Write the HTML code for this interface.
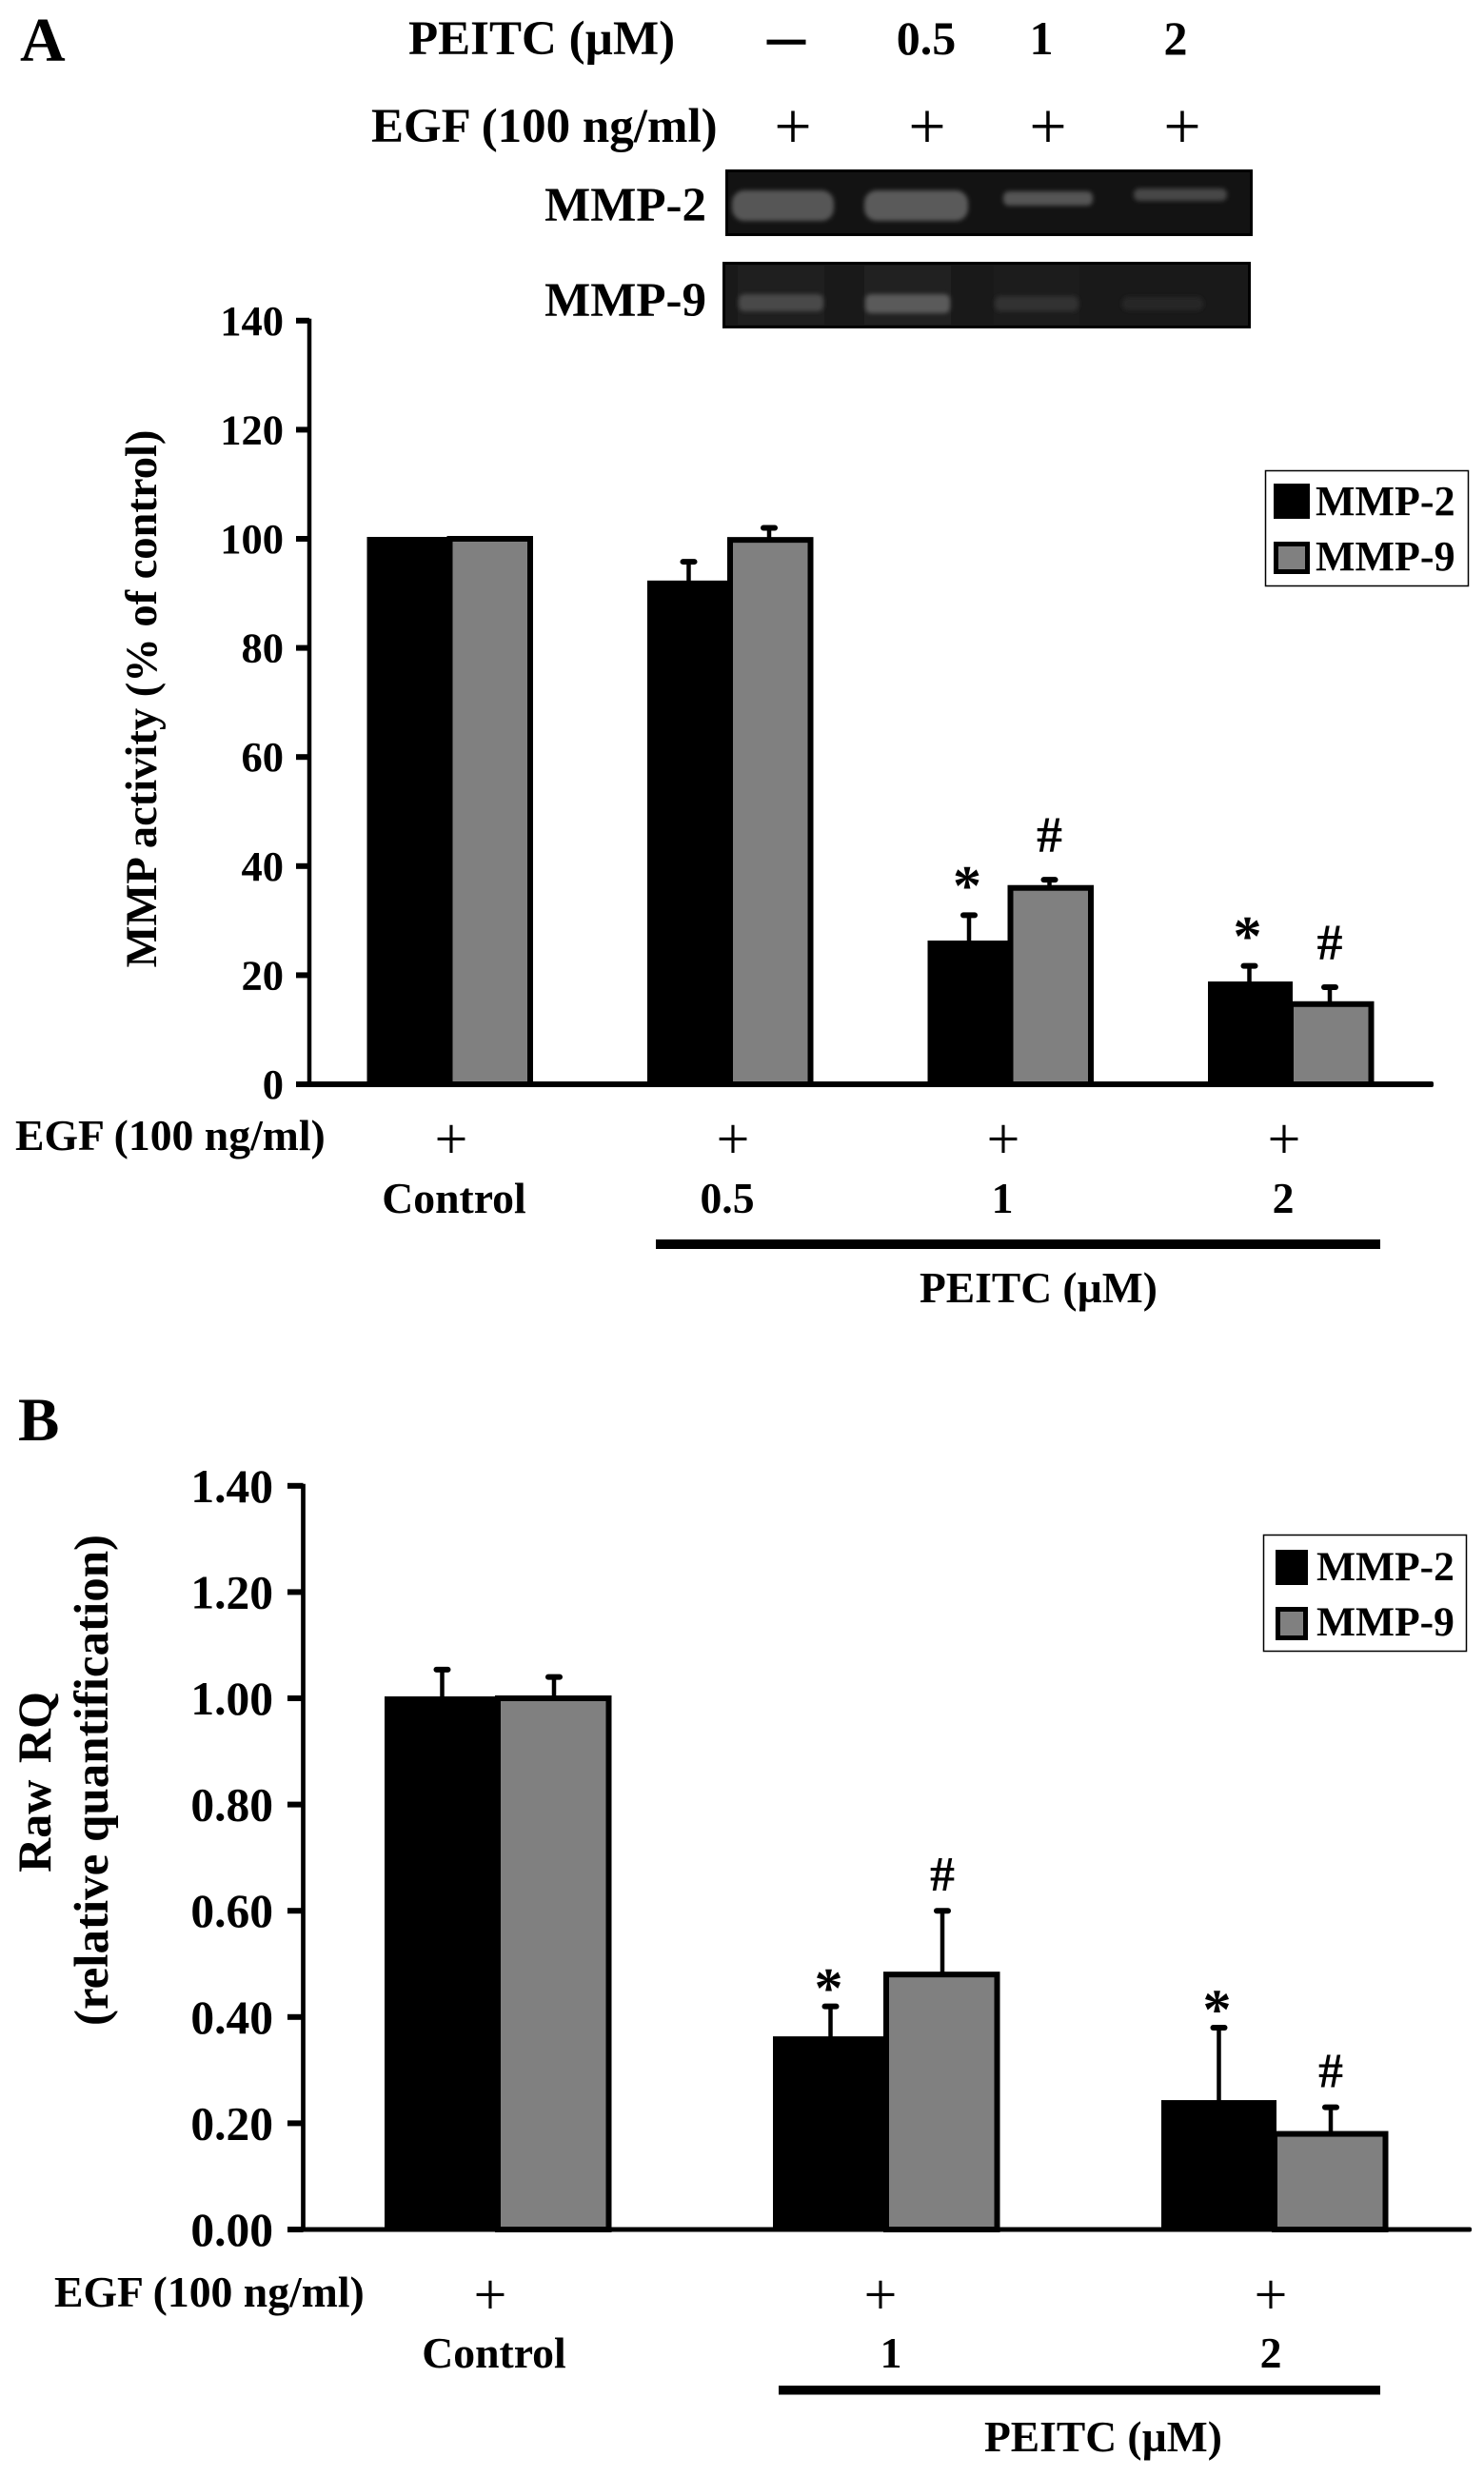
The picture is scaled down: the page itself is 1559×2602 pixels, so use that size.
<!DOCTYPE html>
<html lang="en">
<head>
<meta charset="utf-8">
<title>MMP activity and relative quantification</title>
<style>
html,body{margin:0;padding:0;background:#fff;}
svg{display:block;}
text{font-family:"Liberation Serif",serif;font-weight:bold;fill:#000;}
</style>
</head>
<body>
<svg id="figure" xmlns="http://www.w3.org/2000/svg" width="1559" height="2602" viewBox="0 0 1559 2602">
<defs>
<filter id="blur3" x="-20%" y="-60%" width="140%" height="220%"><feGaussianBlur stdDeviation="2.5"/></filter>
</defs>
<rect width="1559" height="2602" fill="#fff"/>

<!-- Panel A header -->
<text x="21" y="64" font-size="66">A</text>
<text x="429" y="57" font-size="51">PEITC (µM)</text>
<text x="390" y="149" font-size="51">EGF (100 ng/ml)</text>
<text x="826" y="53" font-size="38" text-anchor="middle" stroke="#000" stroke-width="2.5">—</text>
<text x="973" y="57" font-size="50" text-anchor="middle">0.5</text>
<text x="1094" y="57" font-size="50" text-anchor="middle">1</text>
<text x="1235" y="57" font-size="50" text-anchor="middle">2</text>
<text x="833" y="156" font-size="70" text-anchor="middle" style="font-weight:normal">+</text>
<text x="974" y="156" font-size="70" text-anchor="middle" style="font-weight:normal">+</text>
<text x="1101" y="156" font-size="70" text-anchor="middle" style="font-weight:normal">+</text>
<text x="1242" y="156" font-size="70" text-anchor="middle" style="font-weight:normal">+</text>
<text x="742" y="232" font-size="51" text-anchor="end">MMP-2</text>
<text x="742" y="332" font-size="51" text-anchor="end">MMP-9</text>

<!-- Gel images -->
<g>
<rect x="762" y="178" width="554" height="70" fill="#000"/>
<rect x="765" y="181" width="548" height="64" fill="#131313"/>
<g filter="url(#blur3)">
<rect x="769" y="200" width="107" height="32" rx="13" fill="#565656"/>
<rect x="908" y="200" width="109" height="32" rx="13" fill="#5a5a5a"/>
<rect x="1054" y="201" width="94" height="15" rx="6" fill="#555555"/>
<rect x="1191" y="198" width="98" height="13" rx="6" fill="#474747"/>
</g>
</g>
<g>
<rect x="759" y="275" width="555" height="70" fill="#000"/>
<rect x="762" y="278" width="549" height="64" fill="#191919"/>
<rect x="775" y="279" width="91" height="62" fill="#1f1f1f"/>
<rect x="908" y="279" width="91" height="62" fill="#212121"/>
<rect x="1044" y="279" width="90" height="62" fill="#1c1c1c"/>
<g filter="url(#blur3)">
<rect x="776" y="309" width="89" height="18" rx="6" fill="#494949"/>
<rect x="909" y="309" width="89" height="20" rx="6" fill="#5a5a5a"/>
<rect x="1045" y="311" width="88" height="16" rx="6" fill="#323232"/>
<rect x="1179" y="312" width="85" height="14" rx="6" fill="#252525"/>
</g>
</g>

<!-- Panel A chart group filled by script -->
<g id="panel-a"></g>
<text transform="translate(164,734) rotate(-90)" font-size="46.5" text-anchor="middle">MMP activity (% of control)</text>

<!-- Panel A legend -->
<g>
<rect x="1329.5" y="494.5" width="213" height="121" fill="#fff" stroke="#000" stroke-width="1.5"/>
<g>
<rect x="1338" y="508" width="38" height="37" fill="#000"/>
<text x="1382" y="541" font-size="44">MMP-2</text>
</g>
<g>
<rect x="1340.5" y="571.5" width="33" height="29" fill="#808080" stroke="#000" stroke-width="5"/>
<text x="1382" y="599" font-size="44">MMP-9</text>
</g>
</g>

<!-- Panel A lower labels -->
<text x="16" y="1208" font-size="45.7">EGF (100 ng/ml)</text>
<text x="474" y="1217" font-size="62" text-anchor="middle" style="font-weight:normal">+</text>
<text x="770" y="1217" font-size="62" text-anchor="middle" style="font-weight:normal">+</text>
<text x="1054" y="1217" font-size="62" text-anchor="middle" style="font-weight:normal">+</text>
<text x="1349" y="1217" font-size="62" text-anchor="middle" style="font-weight:normal">+</text>
<text x="477" y="1274" font-size="45.7" text-anchor="middle">Control</text>
<text x="764" y="1274" font-size="45.7" text-anchor="middle">0.5</text>
<text x="1053" y="1274" font-size="45.7" text-anchor="middle">1</text>
<text x="1348" y="1274" font-size="45.7" text-anchor="middle">2</text>
<rect x="689" y="1302" width="761" height="10" fill="#000"/>
<text x="966" y="1368" font-size="45.5">PEITC (µM)</text>

<!-- Panel B -->
<text x="19" y="1513" font-size="65">B</text>
<g id="panel-b"></g>
<text transform="translate(53,1872) rotate(-90)" font-size="50" text-anchor="middle" word-spacing="5">Raw RQ</text>
<text transform="translate(113,1870) rotate(-90)" font-size="51" text-anchor="middle">(relative quantification)</text>

<g>
<rect x="1327.5" y="1612.5" width="213" height="122" fill="#fff" stroke="#000" stroke-width="1.5"/>
<g>
<rect x="1340" y="1628" width="34" height="37" fill="#000"/>
<text x="1383" y="1660" font-size="43.5">MMP-2</text>
</g>
<g>
<rect x="1342.5" y="1690.5" width="29" height="30" fill="#808080" stroke="#000" stroke-width="5"/>
<text x="1383" y="1718" font-size="43.5">MMP-9</text>
</g>
</g>

<text x="57" y="2423" font-size="45.7">EGF (100 ng/ml)</text>
<text x="515" y="2431" font-size="62" text-anchor="middle" style="font-weight:normal">+</text>
<text x="925" y="2431" font-size="62" text-anchor="middle" style="font-weight:normal">+</text>
<text x="1335" y="2431" font-size="62" text-anchor="middle" style="font-weight:normal">+</text>
<text x="519" y="2487" font-size="45.7" text-anchor="middle">Control</text>
<text x="936" y="2487" font-size="45.7" text-anchor="middle">1</text>
<text x="1335" y="2487" font-size="45.7" text-anchor="middle">2</text>
<rect x="818" y="2506" width="632" height="9.5" fill="#000"/>
<text x="1034" y="2575" font-size="45.5">PEITC (µM)</text>
</svg>

<script>
// Panel A data
const panelACategories = ['Control', '0.5', '1', '2'];
const panelAMmp2 = [100, 92, 26, 18.5];
const panelAMmp9 = [100, 99.8, 36, 14.7];
const panelAMmp2Err = [0, 3.8, 5, 3.2];
const panelAMmp9Err = [0, 2.2, 1.5, 3.1];
const panelAMmp2Sig = ['', '', '*', '*'];
const panelAMmp9Sig = ['', '', '#', '#'];
const panelATickValues = [0, 20, 40, 60, 80, 100, 120, 140];
const panelATickLabels = ['0', '20', '40', '60', '80', '100', '120', '140'];

// Panel B data
const panelBCategories = ['Control', '1', '2'];
const panelBMmp2 = [1.00, 0.36, 0.24];
const panelBMmp9 = [1.00, 0.48, 0.18];
const panelBMmp2Err = [0.054, 0.06, 0.14];
const panelBMmp9Err = [0.04, 0.12, 0.05];
const panelBMmp2Sig = ['', '*', '*'];
const panelBMmp9Sig = ['', '#', '#'];
const panelBTickValues = [0, 0.2, 0.4, 0.6, 0.8, 1.0, 1.2, 1.4];
const panelBTickLabels = ['0.00', '0.20', '0.40', '0.60', '0.80', '1.00', '1.20', '1.40'];

const SVG_NS = 'http://www.w3.org/2000/svg';

// Axis functions
function yA(v) { return 1139 - v * 5.73; }
function xA(i) { return 472.5 + 294.5 * i; }
function yB(v) { return 2342 - v * 558; }
function xB(i) { return 523 + 408 * i; }

function make(tag, parent, attrs) {
  const el = document.createElementNS(SVG_NS, tag);
  for (const k in attrs) el.setAttribute(k, attrs[k]);
  parent.appendChild(el);
  return el;
}

function drawPanel(root, opt) {
  const y = opt.y, x = opt.x;
  // value axis
  const axisLine = make('line', root, {x1: opt.axisX, x2: opt.axisX, y1: y(opt.tickValues[opt.tickValues.length - 1]) - 2, y2: y(0), stroke: '#000', 'stroke-width': opt.axisWidth});
  
  

  opt.tickValues.forEach(function (v, i) {
    const tick = make('rect', root, {x: opt.tickLeft, y: y(v) - 3, width: opt.axisX - opt.tickLeft, height: 6, fill: '#000'});
    
    
    const label = make('text', root, {x: opt.labelRight, y: y(v) + opt.labelDy, 'font-size': opt.labelSize, 'text-anchor': 'end'});
    label.textContent = opt.tickLabels[i];
    
    
  });

  opt.categories.forEach(function (c, i) {
    const cx = x(i);
    const slug = String(c).toLowerCase().replace('.', '-');
    const e2 = opt.err2[i], e9 = opt.err9[i];
    const bx2 = cx + opt.off2, bx9 = cx + opt.off9;

    if (e2 > 0) {
      const s2 = make('line', root, {x1: bx2, x2: bx2, y1: y(opt.mmp2[i]), y2: y(opt.mmp2[i] + e2), stroke: '#000', 'stroke-width': 4.5});
      
      
      const c2 = make('rect', root, {x: bx2 - 9, y: y(opt.mmp2[i] + e2) - 3, width: 18, height: 6, rx: 3, fill: '#000'});
      
      
    }
    if (e9 > 0) {
      const s9 = make('line', root, {x1: bx9, x2: bx9, y1: y(opt.mmp9[i]), y2: y(opt.mmp9[i] + e9), stroke: '#000', 'stroke-width': 4.5});
      
      
      const c9 = make('rect', root, {x: bx9 - 9, y: y(opt.mmp9[i] + e9) - 3, width: 18, height: 6, rx: 3, fill: '#000'});
      
      
    }

    const bar2 = make('rect', root, {x: cx - opt.barW, y: y(opt.mmp2[i]) - 2, width: opt.barW + 2, height: y(0) - y(opt.mmp2[i]) + 2, fill: '#000'});
    
    

    const bar9 = make('rect', root, {x: cx, y: y(opt.mmp9[i]), width: opt.barW - 2.5, height: y(0) - y(opt.mmp9[i]), fill: '#808080', stroke: '#000', 'stroke-width': 6});
    
    

    if (opt.sig2[i]) {
      const star = make('text', root, {x: bx2 - 2, y: y(opt.mmp2[i] + e2) - opt.starGap + 29, 'font-size': 60, 'text-anchor': 'middle'});
      star.textContent = opt.sig2[i];
      
      
    }
    if (opt.sig9[i]) {
      const hash = make('text', root, {x: bx9, y: y(opt.mmp9[i] + e9) - opt.hashGap + 18, 'font-size': opt.hashSize, 'text-anchor': 'middle'});
      hash.textContent = opt.sig9[i];
      
      
    }
  });

  // category axis, drawn over the bars
  const base = make('rect', root, {x: opt.tickLeft, y: y(0) - opt.baseH / 2, width: opt.baseRight - opt.tickLeft, height: opt.baseH, rx: 2, fill: '#000'});
  
  
}

drawPanel(document.getElementById('panel-a'), {
  y: yA, x: xA, categories: panelACategories,
  mmp2: panelAMmp2, mmp9: panelAMmp9, err2: panelAMmp2Err, err9: panelAMmp9Err,
  sig2: panelAMmp2Sig, sig9: panelAMmp9Sig,
  tickValues: panelATickValues, tickLabels: panelATickLabels,
  axisX: 325, axisWidth: 4.5, tickLeft: 311, labelRight: 298, labelDy: 15, labelSize: 44.5,
  barW: 87, off2: -43.5, off9: 41, starGap: 40, hashGap: 47, hashSize: 54,
  baseRight: 1506, baseH: 6
});

drawPanel(document.getElementById('panel-b'), {
  y: yB, x: xB, categories: panelBCategories,
  mmp2: panelBMmp2, mmp9: panelBMmp9, err2: panelBMmp2Err, err9: panelBMmp9Err,
  sig2: panelBMmp2Sig, sig9: panelBMmp9Sig,
  tickValues: panelBTickValues, tickLabels: panelBTickLabels,
  axisX: 318.5, axisWidth: 4.7, tickLeft: 302, labelRight: 287, labelDy: 17, labelSize: 49.5,
  barW: 119, off2: -58.5, off9: 59, starGap: 28, hashGap: 39, hashSize: 52,
  baseRight: 1546, baseH: 5
});
</script>
</body>
</html>
